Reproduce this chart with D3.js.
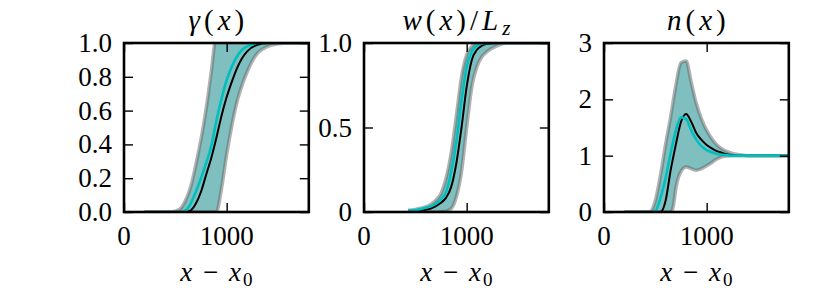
<!DOCTYPE html>
<html lang="en">
<head>
<meta charset="utf-8" />
<title>gamma, w, n profiles</title>
<script src="https://d3js.org/d3.v7.min.js"></script>
<style>
  body { margin: 0; background: #fff; }
  text { font-family: "Liberation Serif", "Times New Roman", serif; fill: #000; }
  .band { fill: #008080; fill-opacity: 0.5; stroke: none; }
  .edge { fill: none; stroke: #666; stroke-opacity: 0.5; stroke-width: 3.5px; }
  .black { fill: none; stroke: #000; stroke-width: 2px; }
  .cyan { fill: none; stroke: #00bfbf; stroke-width: 2.6px; }
  .spine { fill: none; stroke: #000; stroke-width: 2.6px; }
  .tick line { stroke: #000; stroke-width: 1.4px; }
</style>
</head>
<body>
<script>

// ---- data ----
// gamma(x)
var xGamma     = [200, 400, 450, 500, 550, 600, 650, 700, 750, 800, 850, 900, 950, 1000, 1050, 1100, 1150, 1200, 1300, 1400, 1500, 1600, 1700, 1800];
var gammaLow   = [0, 0, 0, 0, 0, 0, 0, 0, 0, 0, 0, 0, 0.14, 0.34, 0.51, 0.65, 0.75, 0.83, 0.94, 0.98, 0.995, 1, 1, 1];
var gammaHigh  = [0, 0, 0, 0.005, 0.02, 0.07, 0.15, 0.28, 0.43, 0.61, 0.83, 1.06, 1.1, 1.1, 1.08, 1.06, 1.04, 1.03, 1.01, 1, 1, 1, 1, 1];
var gammaBlack = [0, 0, 0, 0, 0, 0, 0.01, 0.05, 0.12, 0.22, 0.32, 0.44, 0.57, 0.68, 0.77, 0.85, 0.91, 0.95, 0.99, 1, 1, 1, 1, 1];
var gammaCyan  = [0, 0, 0, 0, 0, 0.01, 0.05, 0.12, 0.2, 0.29, 0.39, 0.54, 0.67, 0.78, 0.86, 0.92, 0.96, 0.98, 1, 1, 1, 1, 1, 1];

// w(x)/Lz
var xW     = [430, 500, 550, 600, 650, 700, 750, 800, 850, 900, 950, 1000, 1050, 1100, 1150, 1200, 1300, 1400, 1500, 1600, 1700, 1800];
var wLow   = [0, 0, 0, 0, 0, 0, 0.002, 0.005, 0.02, 0.09, 0.24, 0.5, 0.74, 0.86, 0.92, 0.95, 0.985, 1, 1, 1, 1, 1];
var wHigh  = [0.01, 0.015, 0.022, 0.03, 0.045, 0.07, 0.11, 0.2, 0.35, 0.57, 0.8, 0.93, 0.98, 1, 1, 1, 1, 1, 1, 1, 1, 1];
var wBlack = [0.003, 0.005, 0.008, 0.013, 0.02, 0.035, 0.055, 0.085, 0.15, 0.29, 0.5, 0.74, 0.9, 0.96, 0.985, 0.995, 1, 1, 1, 1, 1, 1];
var wCyan  = [0.008, 0.012, 0.017, 0.025, 0.035, 0.05, 0.075, 0.12, 0.24, 0.42, 0.66, 0.86, 0.95, 0.985, 0.997, 1, 1, 1, 1, 1, 1, 1];

// n(x)
var xN     = [200, 400, 450, 500, 550, 600, 650, 675, 700, 750, 800, 850, 900, 950, 1000, 1050, 1100, 1150, 1200, 1250, 1300, 1400, 1600, 1800];
var nLow   = [0, 0, 0, 0, 0, 0, 0, 0.1, 0.42, 0.72, 0.8, 0.77, 0.74, 0.77, 0.82, 0.88, 0.94, 0.98, 0.995, 1, 1, 1, 1, 1];
var nHigh  = [0, 0, 0.01, 0.2, 0.65, 1.2, 1.7, 1.98, 2.25, 2.65, 2.68, 2.3, 1.92, 1.65, 1.45, 1.3, 1.19, 1.12, 1.07, 1.04, 1.02, 1, 1, 1];
var nBlack = [0, 0, 0, 0, 0, 0.2, 0.75, 0.98, 1.2, 1.6, 1.74, 1.6, 1.4, 1.28, 1.19, 1.13, 1.08, 1.05, 1.02, 1.01, 1, 1, 1, 1];
var nCyan  = [0, 0, 0, 0.02, 0.25, 0.6, 1.05, 1.26, 1.45, 1.68, 1.65, 1.45, 1.28, 1.17, 1.1, 1.06, 1.03, 1.015, 1.005, 1, 1, 1, 1, 1];

var xTicks = [0, 1000];
var xLabels = ["0", "1000"];

// ---- layout ----
var W = 830, H = 291;
var axTop = 43, axBottom = 212, pw = 184.8;
var lefts = [124, 364, 604];

var svg = d3.select("body").append("svg")
    .attr("width", W)
    .attr("height", H);

var clipN = 0;

function drawPanel(left, p) {
  var ih = axBottom - axTop;
  var x = d3.scaleLinear().domain([0, 1800]).range([0, pw]);
  var y = d3.scaleLinear().domain(p.ydomain).range([ih, 0]);
  var g = svg.append("g").attr("transform", "translate(" + left + "," + axTop + ")");

  var id = "clip" + (clipN++);
  g.append("clipPath").attr("id", id)
    .append("rect").attr("width", pw).attr("height", ih);

  var rows = p.xs.map(function(d, i) {
    return { x: d, lo: p.lo[i], hi: p.hi[i], k: p.black[i], c: p.cyan[i] };
  });

  var plot = g.append("g").attr("clip-path", "url(#" + id + ")");
  var area = d3.area().curve(d3.curveMonotoneX)
      .x(function(d) { return x(d.x); })
      .y0(function(d) { return y(d.lo); })
      .y1(function(d) { return y(d.hi); });
  plot.append("path").datum(rows).attr("class", "band").attr("d", area);

  function line(key) {
    return d3.line().curve(d3.curveMonotoneX)
      .x(function(d) { return x(d.x); })
      .y(function(d) { return y(d[key]); });
  }
  plot.append("path").datum(rows).attr("class", "edge").attr("d", line("lo"));
  plot.append("path").datum(rows).attr("class", "edge").attr("d", line("hi"));
  plot.append("path").datum(rows).attr("class", "black").attr("d", line("k"));
  plot.append("path").datum(rows).attr("class", "cyan").attr("d", line("c"));

  // ticks pointing inwards on all four sides (classic matplotlib look)
  g.append("g").attr("transform", "translate(0," + ih + ")")
    .call(d3.axisTop(x).tickValues(xTicks).tickSize(9).tickFormat(""));
  g.append("g").call(d3.axisBottom(x).tickValues(xTicks).tickSize(9).tickFormat(""));
  g.append("g").call(d3.axisRight(y).tickValues(p.yticks).tickSize(9).tickFormat(""));
  g.append("g").attr("transform", "translate(" + pw + ",0)")
    .call(d3.axisLeft(y).tickValues(p.yticks).tickSize(9).tickFormat(""));
  g.selectAll(".domain").remove();

  g.append("rect").attr("class", "spine").attr("width", pw).attr("height", ih);

  // tick labels
  g.selectAll(".ylab").data(p.yticks).enter().append("text")
    .attr("x", -12)
    .attr("y", function(d) { return y(d) + 9; })
    .attr("text-anchor", "end")
    .style("font-size", "27px")
    .text(function(d, i) { return p.ylabels[i]; });
  g.selectAll(".xlab").data(xTicks).enter().append("text")
    .attr("x", function(d) { return x(d); })
    .attr("y", ih + 33)
    .attr("text-anchor", "middle")
    .style("font-size", "27px")
    .text(function(d, i) { return xLabels[i]; });

  // title
  var t = g.append("text").attr("x", pw / 2 + 2).attr("y", -13)
    .attr("text-anchor", "middle").style("font-size", "29px")
    .style("letter-spacing", "4px");
  p.title.forEach(function(s) {
    var ts = t.append("tspan").text(s[0]);
    if (s[1] === "i") ts.style("font-style", "italic");
    if (s[2]) ts.attr("baseline-shift", s[2]).style("font-size", "21px");
  });

  // x label
  var xl = g.append("text").attr("x", pw / 2 + 1).attr("y", ih + 69)
    .attr("text-anchor", "middle").style("font-size", "27px")
    .style("letter-spacing", "2px");
  xl.append("tspan").style("font-style", "italic").text("x");
  xl.append("tspan").text(" \u2212 ");
  xl.append("tspan").style("font-style", "italic").text("x");
  xl.append("tspan").attr("baseline-shift", "-25%").style("font-size", "19px").text("0");
}

drawPanel(lefts[0], {
  xs: xGamma, lo: gammaLow, hi: gammaHigh, black: gammaBlack, cyan: gammaCyan,
  ydomain: [0, 1], yticks: [0, 0.2, 0.4, 0.6, 0.8, 1.0],
  ylabels: ["0.0", "0.2", "0.4", "0.6", "0.8", "1.0"],
  title: [["\u03b3", "i"], ["(", ""], ["x", "i"], [")", ""]]
});
drawPanel(lefts[1], {
  xs: xW, lo: wLow, hi: wHigh, black: wBlack, cyan: wCyan,
  ydomain: [0, 1], yticks: [0, 0.5, 1.0],
  ylabels: ["0", "0.5", "1.0"],
  title: [["w", "i"], ["(", ""], ["x", "i"], [")/", ""], ["L", "i"], ["z", "i", "-25%"]]
});
drawPanel(lefts[2], {
  xs: xN, lo: nLow, hi: nHigh, black: nBlack, cyan: nCyan,
  ydomain: [0, 3], yticks: [0, 1, 2, 3],
  ylabels: ["0", "1", "2", "3"],
  title: [["n", "i"], ["(", ""], ["x", "i"], [")", ""]]
});

</script>
</body>
</html>
